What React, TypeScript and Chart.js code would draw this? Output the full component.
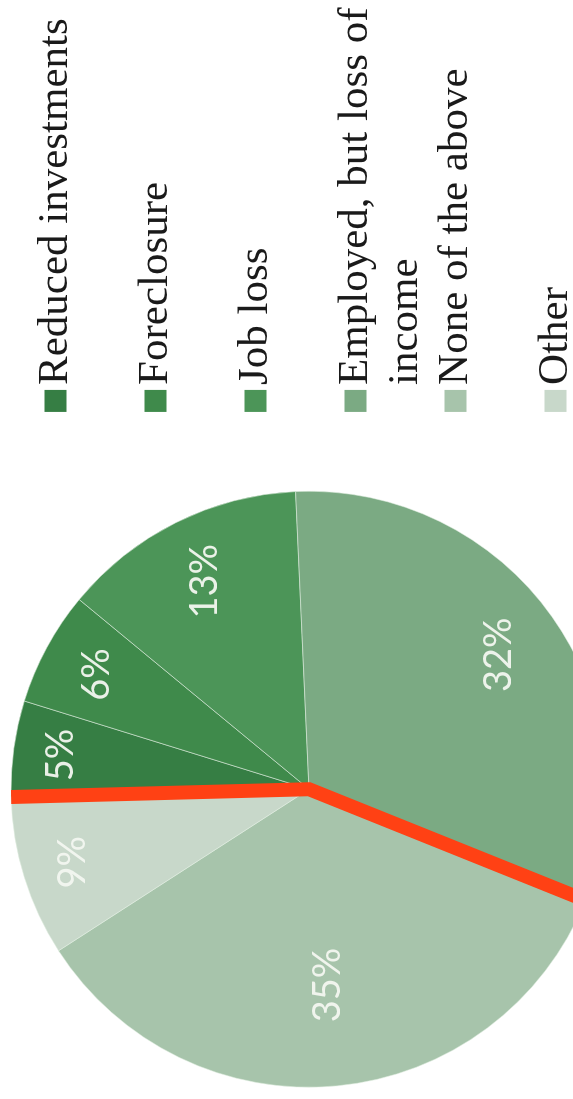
import React, { useEffect, useRef } from 'react';
import { Chart, registerables } from 'chart.js';

Chart.register(...registerables);

// ---- data ----
const categories: (string | string[])[] = [
  'Reduced investments',
  'Foreclosure',
  'Job loss',
  ['Employed, but loss of', 'income'],
  'None of the above',
  'Other',
];
// slice shares (labels show them rounded)
const values = [5.2, 6.2, 13.3, 31.8, 34.8, 8.7];
const valueLabels = values.map((v) => `${Math.round(v)}%`);

// ---- style ----
const sliceColors = ['#367E44', '#3F8A4B', '#4C9558', '#7BAA83', '#A7C4AB', '#C8D8CA'];
const labelRadiusFrac = [0.84, 0.81, 0.78, 0.78, 0.66, 0.83];
const outlineFromSlice = 0;
const outlineToSlice = 3;

const LEGEND_FONT_SIZE = 43;
const LEGEND_BOX_W = 1;
const MARKER_SIZE = 22;
const MARKER_GAP = 5;

const CANVAS_W = 1181;
const CANVAS_H = 584;
const SHIFT_X = 72;

const valueLabelPlugin = {
  id: 'valueLabels',
  afterDatasetsDraw(chart: any) {
    const meta = chart.getDatasetMeta(0);
    const ctx = chart.ctx as CanvasRenderingContext2D;
    ctx.save();
    ctx.font = '38px Lato, "Open Sans", sans-serif';
    ctx.fillStyle = 'rgba(243,247,240,0.95)';
    ctx.textAlign = 'center';
    ctx.textBaseline = 'middle';
    meta.data.forEach((arc: any, i: number) => {
      const p = arc.getProps(['x', 'y', 'startAngle', 'endAngle', 'outerRadius'], true);
      const mid = (p.startAngle + p.endAngle) / 2;
      const r = p.outerRadius * labelRadiusFrac[i];
      ctx.fillText(valueLabels[i], p.x + Math.cos(mid) * r, p.y + Math.sin(mid) * r);
    });
    ctx.restore();
  },
};

// legend squares drawn snug against the legend text, using the legend's own hit boxes
const legendMarkerPlugin = {
  id: 'legendMarkers',
  afterDraw(chart: any) {
    const legend = chart.legend;
    if (!legend || !legend.legendHitBoxes) return;
    const ctx = chart.ctx as CanvasRenderingContext2D;
    ctx.save();
    legend.legendItems.forEach((item: any, i: number) => {
      const hb = legend.legendHitBoxes[i];
      if (!hb) return;
      const textX = hb.left + LEGEND_BOX_W + LEGEND_FONT_SIZE / 2;
      const cy = hb.top + LEGEND_FONT_SIZE / 2;
      ctx.fillStyle = item.fillStyle;
      ctx.fillRect(textX - MARKER_GAP - MARKER_SIZE, cy - MARKER_SIZE / 2, MARKER_SIZE, MARKER_SIZE);
    });
    ctx.restore();
  },
};

const outlinePlugin = {
  id: 'outline',
  afterDraw(chart: any) {
    const arcs = chart.getDatasetMeta(0).data;
    const a = arcs[outlineFromSlice].getProps(['x', 'y', 'startAngle', 'outerRadius'], true);
    const b = arcs[outlineToSlice].getProps(['x', 'y', 'endAngle', 'outerRadius'], true);
    const ctx = chart.ctx as CanvasRenderingContext2D;
    ctx.save();
    ctx.strokeStyle = '#FF4114';
    ctx.lineWidth = 14;
    ctx.lineJoin = 'miter';
    ctx.lineCap = 'butt';
    ctx.beginPath();
    ctx.moveTo(a.x + Math.cos(a.startAngle) * a.outerRadius, a.y + Math.sin(a.startAngle) * a.outerRadius);
    ctx.lineTo(a.x, a.y);
    ctx.lineTo(b.x + Math.cos(b.endAngle) * b.outerRadius, b.y + Math.sin(b.endAngle) * b.outerRadius);
    ctx.stroke();
    ctx.restore();
  },
};

export default function App() {
  const ref = useRef<HTMLCanvasElement>(null);

  useEffect(() => {
    if (!ref.current) return;
    const chart = new Chart(ref.current, {
      type: 'pie',
      data: {
        labels: categories as any,
        datasets: [
          {
            data: values,
            backgroundColor: sliceColors,
            borderColor: 'rgba(225,238,225,0.55)',
            borderWidth: 1,
            radius: 298,
            rotation: -1.5,
            clip: false,
          } as any,
        ],
      },
      options: {
        responsive: false,
        animation: false,
        rotation: -1.5,
        layout: { padding: { top: 34, right: 7.5, bottom: 0, left: 0 } },
        plugins: {
          legend: {
            position: 'right',
            align: 'start',
            labels: {
              usePointStyle: true,
              pointStyle: 'rect',
              boxWidth: LEGEND_BOX_W,
              boxHeight: 0,
              padding: 0,
              color: '#1a1a1a',
              font: {
                family: '"Liberation Serif", "Times New Roman", serif',
                size: LEGEND_FONT_SIZE,
                lineHeight: '50px' as any,
              },
              generateLabels: () =>
                categories.map((c, i) => ({
                  text: Array.isArray(c) ? c : i === categories.length - 1 ? c : [c, ''],
                  fillStyle: sliceColors[i],
                  strokeStyle: sliceColors[i],
                  lineWidth: 0,
                  pointStyle: 'rect',
                  rotation: 0,
                  hidden: false,
                  index: i,
                  fontColor: '#1a1a1a',
                })) as any,
            },
          },
          tooltip: { enabled: false },
        },
      },
      plugins: [valueLabelPlugin, legendMarkerPlugin, outlinePlugin],
    });
    return () => chart.destroy();
  }, []);

  return (
    <div
      style={{
        position: 'fixed',
        left: 0,
        top: 0,
        width: 573,
        height: 1099,
        overflow: 'hidden',
        background: '#ffffff',
      }}
    >
      <div
        style={{
          position: 'absolute',
          left: 0,
          top: 0,
          width: 1099,
          height: 573,
          transformOrigin: '0 0',
          transform: 'translateY(1099px) rotate(-90deg)',
        }}
      >
        <canvas
          ref={ref}
          width={CANVAS_W}
          height={CANVAS_H}
          style={{ position: 'absolute', left: -SHIFT_X, top: 0, width: CANVAS_W, height: CANVAS_H }}
        />
      </div>
    </div>
  );
}
